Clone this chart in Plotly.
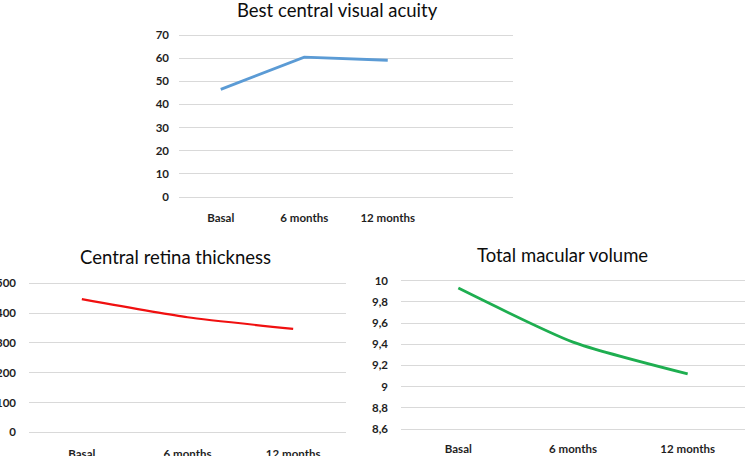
import plotly.graph_objects as go

W, H = 746, 456

categories = ["Basal", "6 months", "12 months"]
bcva_values = [46.5, 60.4, 59.1]
crt_values = [447, 386, 347]
tmv_values = [9.93, 9.42, 9.12]

bcva_ticks = [0, 10, 20, 30, 40, 50, 60, 70]
crt_ticks = [0, 100, 200, 300, 400, 500]
tmv_ticks = [8.6, 8.8, 9.0, 9.2, 9.4, 9.6, 9.8, 10.0]
tmv_ticklabels = ["8,6", "8,8", "9", "9,2", "9,4", "9,6", "9,8", "10"]

titles = ["Best central visual acuity", "Central retina thickness", "Total macular volume"]


def px_x(a, b):
    return [a / W, b / W]


def px_y(top, bottom):
    return [1 - bottom / H, 1 - top / H]


fig = go.Figure()

fig.add_trace(go.Scatter(x=categories, y=bcva_values, mode="lines", xaxis="x", yaxis="y",
                         line=dict(color="#5B9BD5", width=2.8), showlegend=False, hoverinfo="skip"))
fig.add_trace(go.Scatter(x=categories, y=crt_values, mode="lines", xaxis="x2", yaxis="y2",
                         line=dict(color="#F01010", width=2.2, shape="spline", smoothing=0.5),
                         showlegend=False, hoverinfo="skip"))
fig.add_trace(go.Scatter(x=categories, y=tmv_values, mode="lines", xaxis="x3", yaxis="y3",
                         line=dict(color="#1EAE50", width=2.8, shape="spline", smoothing=0.6),
                         showlegend=False, hoverinfo="skip"))

tickfont = dict(family="Lato", size=11.5, color="#1F1F1F", weight="bold")
grid = "#D9D9D9"

common_x = dict(type="category", showgrid=False, zeroline=False, showline=False, ticks="",
                tickfont=tickfont, fixedrange=True, automargin=False)
common_y = dict(showgrid=True, gridcolor=grid, gridwidth=1, zeroline=False, showline=False,
                ticks="", tickfont=tickfont, fixedrange=True, automargin=False)

# top chart: 0 at y=197px, 70 at y=35px
t_ppu = 162 / 70
fig.update_layout(
    xaxis=dict(common_x, domain=px_x(179, 513), anchor="y", range=[-0.5, 3.5],
               categoryorder="array", categoryarray=categories + [" "], ticklabelstandoff=9),
    yaxis=dict(common_y, domain=px_y(30, 200), anchor="x",
               range=[-3 / t_ppu, 70 + 5 / t_ppu], tickvals=bcva_ticks, ticklabelstandoff=9),
    xaxis2=dict(common_x, domain=px_x(29, 346), anchor="y2", range=[-0.5, 2.5], ticklabelstandoff=8),
    yaxis2=dict(common_y, domain=px_y(278, 437), anchor="x2",
                range=[-4.7 / 0.298, 500 + 5.3 / 0.298], tickvals=crt_ticks, ticklabelstandoff=12),
    xaxis3=dict(common_x, domain=px_x(401, 745), anchor="y3", range=[-0.5, 2.5], ticklabelstandoff=6),
    yaxis3=dict(common_y, domain=px_y(276, 434), anchor="x3",
                range=[8.6 - 5 / 105.95, 10 + 4.7 / 105.95], tickvals=tmv_ticks,
                ticktext=tmv_ticklabels, ticklabelstandoff=12),
)

title_font = dict(family="Lato", size=18.5, color="#0D0D0D")
title_pos = [(337, 10), (175, 257), (562, 255)]
for text, (x, y) in zip(titles, title_pos):
    fig.add_annotation(text=text, x=x / W, y=1 - y / H, xref="paper", yref="paper",
                       xanchor="center", yanchor="middle", showarrow=False, font=title_font)

fig.update_layout(width=W, height=H, margin=dict(l=0, r=0, t=0, b=0, autoexpand=False),
                  paper_bgcolor="white", plot_bgcolor="white")

fig.write_html("out.html", config={"displayModeBar": False},
               post_script="document.body.style.margin='0';document.body.style.padding='0';"
                           "document.body.style.overflow='hidden';")
